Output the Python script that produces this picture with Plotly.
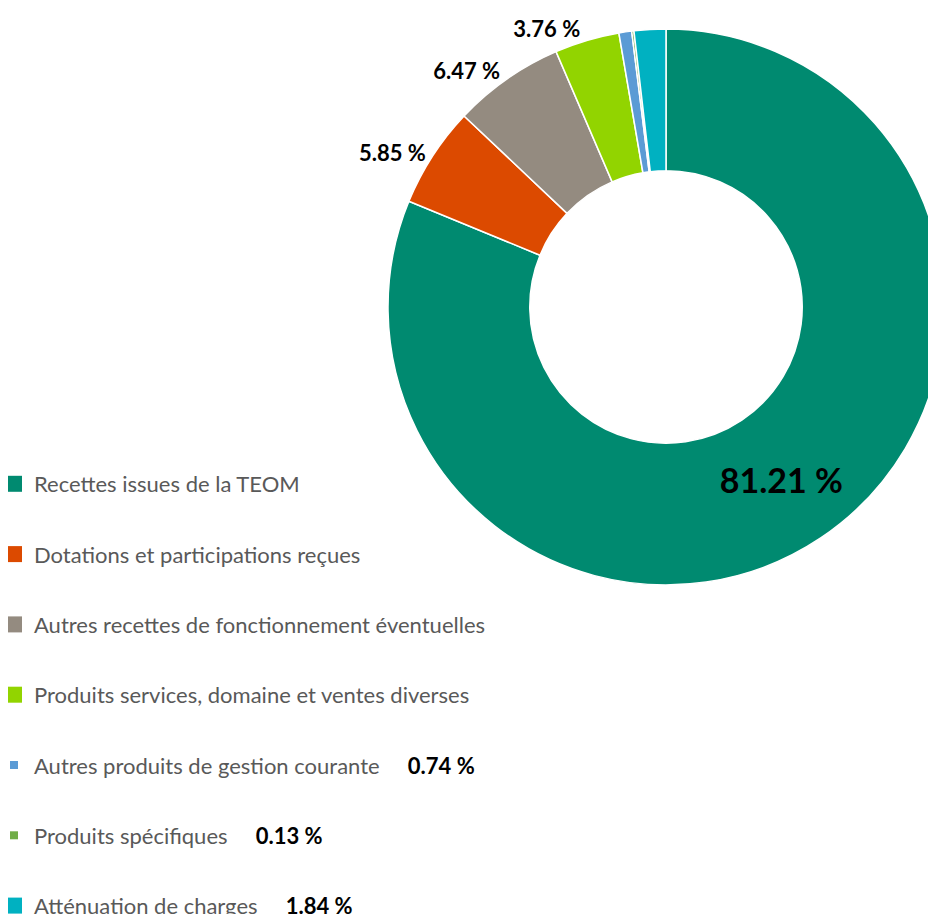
import plotly.graph_objects as go

# Répartition des recettes de fonctionnement (%)
labels = [
    "Recettes issues de la TEOM",
    "Dotations et participations reçues",
    "Autres recettes de fonctionnement éventuelles",
    "Produits services, domaine et ventes diverses",
    "Autres produits de gestion courante",
    "Produits spécifiques",
    "Atténuation de charges",
]
values = [81.21, 5.85, 6.47, 3.76, 0.74, 0.13, 1.84]
colors = ["#008A70", "#DC4A00", "#948B80", "#92D400", "#5B9BD5", "#70AD47", "#00B1C1"]

# which labels are shown on the donut, and which go next to the legend entry
on_chart = [True, True, True, True, False, False, False]

font = "Lato, 'Open Sans', sans-serif"

pie_text = [f"{v:.2f} %" if s else "" for v, s in zip(values, on_chart)]
positions = ["inside" if i == 0 else ("outside" if s else "none") for i, s in enumerate(on_chart)]
text_sizes = [34 if i == 0 else 22 for i in range(len(values))]

fig = go.Figure()

fig.add_trace(go.Pie(
    labels=labels,
    values=values,
    text=pie_text,
    textinfo="text",
    textposition=positions,
    insidetextorientation="horizontal",
    textfont=dict(family=font, size=text_sizes, color="black", weight="bold"),
    marker=dict(colors=colors, line=dict(color="white", width=1.5)),
    hole=0.49,
    sort=False,
    direction="clockwise",
    rotation=0,
    showlegend=False,
    domain=dict(x=[380 / 936, 1.0], y=[1 - 577 / 914, 1 - 21 / 914]),
))

# legend entries drawn through empty scatter traces (so marker size can differ)
marker_sizes = [16, 16, 16, 16, 8, 8, 16]
for i, (lab, col, sz) in enumerate(zip(labels, colors, marker_sizes)):
    name = lab
    if not on_chart[i]:
        name = f"{lab}     <span style='color:black'><b>{values[i]:.2f} %</b></span>"
    fig.add_trace(go.Scatter(
        x=[None], y=[None], mode="markers", name=name,
        marker=dict(symbol="square", size=sz, color=col),
        legendgroup=f"g{i}", hoverinfo="skip",
    ))

fig.update_layout(
    width=936, height=914,
    margin=dict(l=0, r=0, t=0, b=0, autoexpand=False),
    paper_bgcolor="white", plot_bgcolor="white",
    xaxis=dict(visible=False), yaxis=dict(visible=False),
    showlegend=True,
    legend=dict(
        x=-14 / 936, y=1 - 455 / 914, xanchor="left", yanchor="top",
        traceorder="grouped", tracegroupgap=38.7, itemsizing="trace",
        font=dict(family=font, size=22, color="#595959"),
        bgcolor="rgba(0,0,0,0)",
    ),
)

fig.write_html("out.html")
